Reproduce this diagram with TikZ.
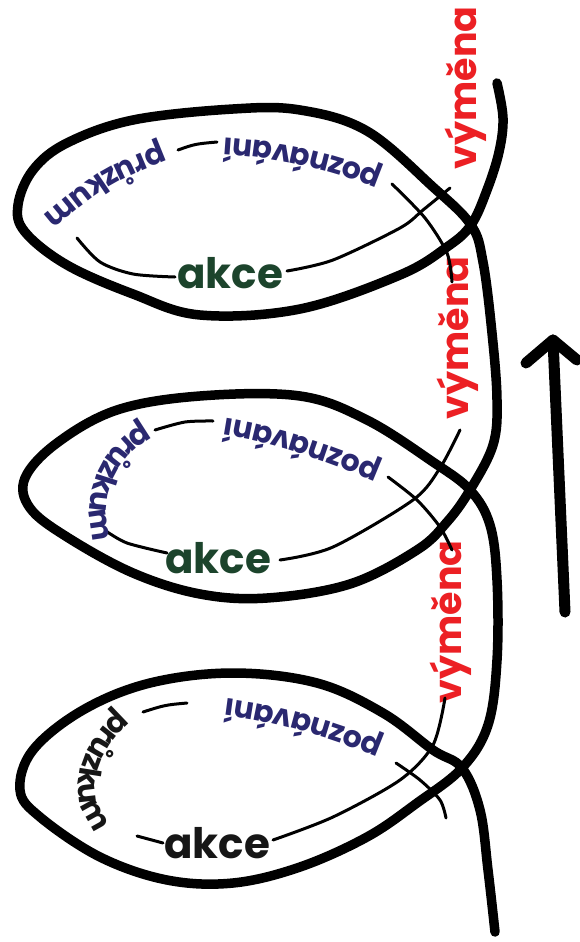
\documentclass[tikz,border=0pt]{standalone}
\usepackage{fontspec}
\newfontfamily\hand{Poppins}
\usetikzlibrary{decorations.text}
\definecolor{hblue}{RGB}{42,40,112}
\definecolor{hgreen}{RGB}{28,68,44}
\definecolor{hred}{RGB}{236,32,36}
\definecolor{hblack}{RGB}{22,22,22}
\newcommand\txtsmall{\hand\bfseries\fontsize{30}{32}\selectfont}
\tikzset{
  spiral/.style={line width=9.5pt, line cap=round, line join=round},
  thread/.style={line width=3pt, line cap=round, line join=round},
  arrowline/.style={line width=11pt, line cap=round, line join=round},
  lbl/.style={font=\hand\bfseries\fontsize{38}{40}\selectfont, text=hred, inner sep=0pt, rotate=90},
  act/.style={font=\hand\bfseries\fontsize{42}{44}\selectfont, inner sep=0pt, anchor=base},
}
\begin{document}
\begin{tikzpicture}[x=1pt,y=-1pt]
\useasboundingbox (0,0) rectangle (579,942);
\fill[white] (0,0) rectangle (579,942);

% main thick spiral
\draw[spiral] plot[smooth, tension=0.6] coordinates {
 (497,83) (503,118) (499,152) (487,190) (471,225)
 (447,247) (400,275) (300,309) (200,315) (133,294) (67,265) (25,232) (18,205) (33,170) (67,143) (133,120) (233,109) (300,110) (367,131) (433,187)
 (471,225) (483,262) (492,333) (497,400) (493,445) (470,490)
 (447,522) (417,550) (350,584) (267,598) (200,594) (133,573) (67,537) (30,508) (25,478) (57,443) (117,410) (200,396) (300,396) (367,420) (433,462)
 (470,490) (490,525) (497,580) (497,660) (488,725) (462,768)
 (417,803) (367,837) (300,867) (233,883) (167,880) (100,857) (40,817) (20,790) (33,750) (83,710) (150,683) (233,673) (317,683) (383,713) (433,750)
 (462,768) (480,810) (488,870) (495,932)};

% exchange labels
\node[lbl] (vym1) at (466,88) {výměna};
\node[lbl] (vym2) at (458,338) {výměna};
\node[lbl] (vym3) at (451,622) {výměna};

% action labels
\node[act, text=hgreen] (akce1) at (230,288) {akce};
\node[act, text=hgreen] (akce2) at (218,573) {akce};
\node[act, text=hblack] (akce3) at (217,858) {akce};

% loop 1 thread
\draw[thread] plot[smooth] coordinates {(450,188) (423,210) (400,228) (333,260) (287,271)};
\draw[thread] plot[smooth] coordinates {(175,277) (133,274) (100,262) (77,238)};
\path[decorate, decoration={text along path, text align=center, text={|\txtsmall\color{hblue}|průzkum}}]
  (170,141) .. controls (100,169) .. (36,222);
\draw[thread] (178,150) .. controls (195,144) .. (217,142);
\path[decorate, decoration={text along path, text align=center, text={|\txtsmall\color{hblue}|poznávání}}]
  (390,176) .. controls (330,150) and (270,140) .. (216,137);
\draw[thread] plot[smooth] coordinates {(392,184) (425,218) (447,253) (452,282)};

% loop 2 thread
\draw[thread] plot[smooth] coordinates {(460,430) (440,468) (413,500) (333,547) (280,560)};
\draw[thread] plot[smooth] coordinates {(167,553) (127,543) (106,531)};
\path[decorate, decoration={text along path, text align=center, text={|\txtsmall\color{hblue}|průzkum}}]
  (158,418) .. controls (100,438) and (74,500) .. (100,556);
\draw[thread] plot[smooth] coordinates {(155,430) (185,422) (213,421)};
\path[decorate, decoration={text along path, text align=center, text={|\txtsmall\color{hblue}|poznávání}}]
  (390,470) .. controls (330,444) and (270,424) .. (216,417);
\draw[thread] plot[smooth] coordinates {(388,477) (417,500) (440,527) (452,550)};

% loop 3 thread
\draw[thread] plot[smooth] coordinates {(445,698) (433,745) (400,780) (333,817) (273,840)};
\draw[thread] (163,843) -- (137,836);
\path[decorate, decoration={text along path, text align=center, text={|\txtsmall\color{hblack}|průzkum}}]
  (135,700) .. controls (85,728) and (50,800) .. (110,845);
\draw[thread] (143,712) .. controls (165,705) .. (187,703);
\path[decorate, decoration={text along path, text align=center, text={|\txtsmall\color{hblue}|poznávání}}]
  (398,748) .. controls (340,722) and (270,702) .. (210,697);
\draw[thread] plot[smooth] coordinates {(396,763) (420,780) (440,800) (446,818)};

% direction arrow
\coordinate (arrowfoot) at (565,612);
\coordinate (arrowtip) at (553,340);
\coordinate (wingL) at (526,363);
\coordinate (wingR) at (577,360);
\draw[arrowline] (arrowfoot) -- (arrowtip);
\draw[arrowline] (wingL) -- (arrowtip) -- (wingR);
\end{tikzpicture}
\end{document}
